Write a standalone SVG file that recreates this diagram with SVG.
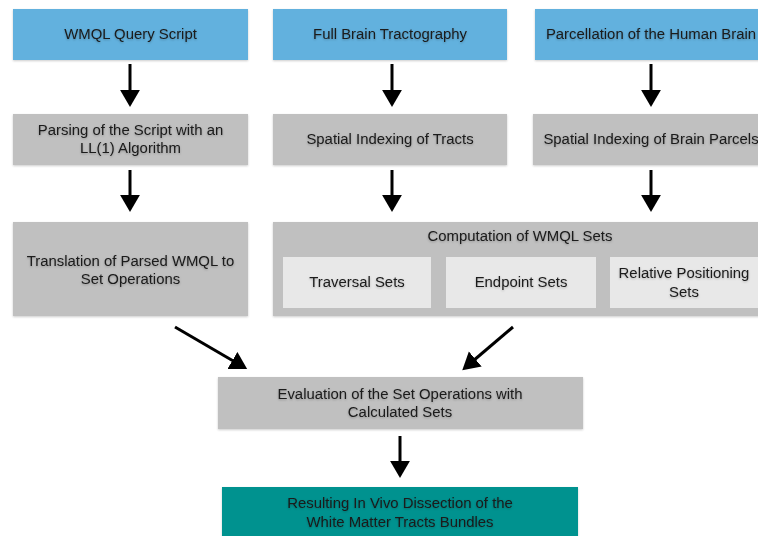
<svg xmlns="http://www.w3.org/2000/svg" width="758" height="536" viewBox="0 0 758 536">
<style>
  text { font-family: "Liberation Sans", Arial, sans-serif; font-size: 14.9px; fill: #1a1a1a; text-anchor: middle; filter: url(#ts); }
  .blue { fill: #62b1de; filter: url(#bs); }
  .gray { fill: #c0c0c0; filter: url(#bs); }
  .light { fill: #e8e8e8; }
  .teal { fill: #00928f; filter: url(#bs); }
  .conn line { stroke: #000; stroke-width: 3; marker-end: url(#ah); }
</style>
<defs>
  <filter id="bs" x="-5%" y="-10%" width="110%" height="130%">
    <feDropShadow dx="0" dy="1" stdDeviation="1" flood-color="#000" flood-opacity="0.2"/>
  </filter>
  <filter id="ts" x="-5%" y="-20%" width="110%" height="160%">
    <feDropShadow dx="0" dy="1" stdDeviation="1" flood-color="#000" flood-opacity="0.25"/>
  </filter>
  <marker id="ah" markerWidth="7" markerHeight="7" refX="1" refY="3.3" orient="auto" markerUnits="strokeWidth">
    <path d="M0,0 L5.7,3.3 L0,6.6 Z" fill="#000"/>
  </marker>
</defs>

<g id="wmql-query-script">
  <rect class="blue" x="13" y="9" width="235" height="51"/>
  <text x="130.5" y="39">WMQL Query Script</text>
</g>
<g id="full-brain-tractography">
  <rect class="blue" x="273" y="9" width="234" height="51"/>
  <text x="390" y="39">Full Brain Tractography</text>
</g>
<g id="parcellation">
  <rect class="blue" x="535" y="9" width="230" height="51"/>
  <text x="651" y="39">Parcellation of the Human Brain</text>
</g>

<g id="parsing">
  <rect class="gray" x="13" y="114" width="235" height="51"/>
  <text x="130.5" y="135">Parsing of the Script with an</text>
  <text x="130.5" y="153">LL(1) Algorithm</text>
</g>
<g id="spatial-tracts">
  <rect class="gray" x="273" y="114" width="234" height="51"/>
  <text x="390" y="144">Spatial Indexing of  Tracts</text>
</g>
<g id="spatial-parcels">
  <rect class="gray" x="533" y="114" width="232" height="51"/>
  <text x="651" y="144">Spatial Indexing of Brain Parcels</text>
</g>

<g id="translation">
  <rect class="gray" x="13" y="222" width="235" height="94"/>
  <text x="130.5" y="266">Translation of Parsed WMQL to</text>
  <text x="130.5" y="284">Set Operations</text>
</g>
<g id="computation">
  <rect class="gray" x="273" y="222" width="492" height="94"/>
  <text x="520" y="241">Computation of WMQL Sets</text>
</g>
<g id="traversal-sets">
  <rect class="light" x="283" y="257" width="148" height="51"/>
  <text x="357" y="287">Traversal Sets</text>
</g>
<g id="endpoint-sets">
  <rect class="light" x="446" y="257" width="150" height="51"/>
  <text x="521" y="287">Endpoint Sets</text>
</g>
<g id="relative-positioning-sets">
  <rect class="light" x="610" y="257" width="155" height="51"/>
  <text x="684" y="278">Relative Positioning</text>
  <text x="684" y="297">Sets</text>
</g>

<g id="evaluation">
  <rect class="gray" x="218" y="377" width="365" height="52"/>
  <text x="400" y="399">Evaluation of the Set Operations with</text>
  <text x="400" y="417">Calculated Sets</text>
</g>
<g id="result">
  <rect class="teal" x="222" y="487" width="356" height="60"/>
  <text x="400" y="508">Resulting In Vivo Dissection of the</text>
  <text x="400" y="527">White Matter Tracts Bundles</text>
</g>

<g id="connectors" class="conn">
  <line x1="130" y1="64" x2="130" y2="93"/>
  <line x1="392" y1="64" x2="392" y2="93"/>
  <line x1="651" y1="64" x2="651" y2="93"/>
  <line x1="130" y1="170" x2="130" y2="198"/>
  <line x1="392" y1="170" x2="392" y2="198"/>
  <line x1="651" y1="170" x2="651" y2="198"/>
  <line x1="175" y1="327" x2="235" y2="362"/>
  <line x1="513" y1="327" x2="473" y2="361"/>
  <line x1="400" y1="436" x2="400" y2="464"/>
</g>
</svg>
